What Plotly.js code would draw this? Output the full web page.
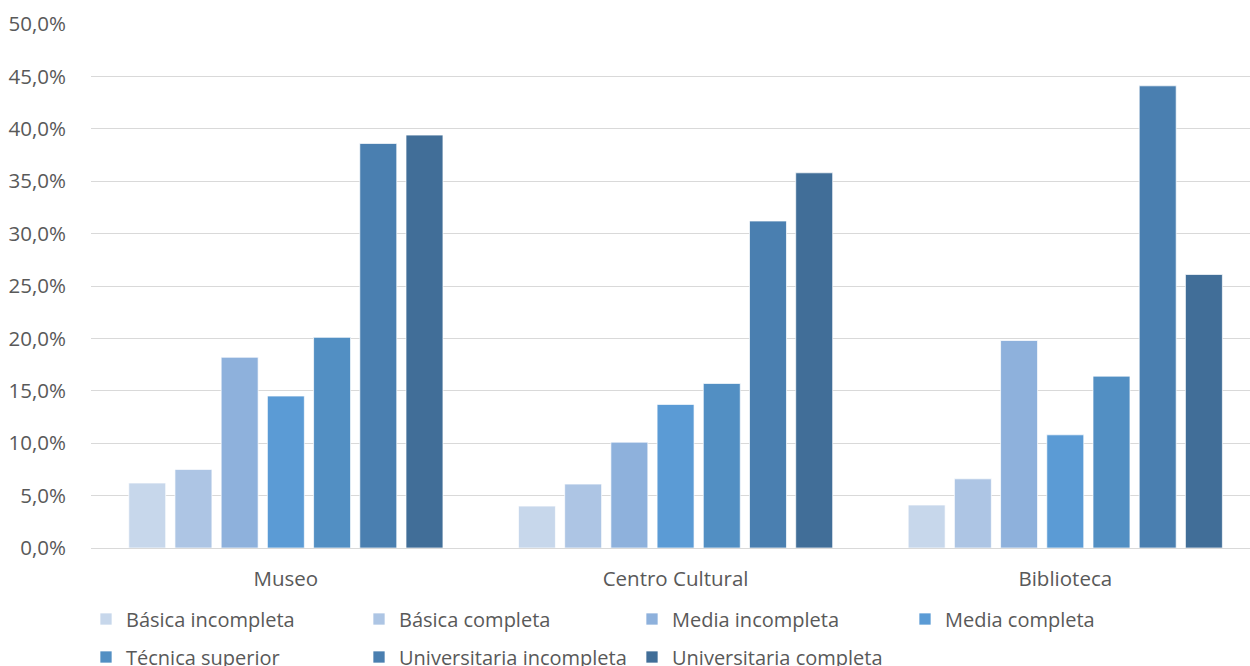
<!DOCTYPE html>
<html>
<head>
<meta charset="utf-8">
<script src="https://cdn.plot.ly/plotly-3.0.1.min.js"></script>
<style>html,body{margin:0;padding:0;background:#fff;}#chart{width:1250px;height:666px;}</style>
</head>
<body>
<div id="chart"></div>
<script>
var categories = ["Museo", "Centro Cultural", "Biblioteca"];
var seriesNames = ["Básica incompleta", "Básica completa", "Media incompleta", "Media completa", "Técnica superior", "Universitaria incompleta", "Universitaria completa"];
var basicaIncompleta = [6.2, 4.0, 4.1];
var basicaCompleta = [7.5, 6.1, 6.6];
var mediaIncompleta = [18.2, 10.1, 19.8];
var mediaCompleta = [14.5, 13.7, 10.8];
var tecnicaSuperior = [20.1, 15.7, 16.4];
var universitariaIncompleta = [38.6, 31.2, 44.1];
var universitariaCompleta = [39.4, 35.8, 26.1];
var seriesValues = [basicaIncompleta, basicaCompleta, mediaIncompleta, mediaCompleta, tecnicaSuperior, universitariaIncompleta, universitariaCompleta];
var colors = ["#C7D7EB", "#ADC5E4", "#8EB1DC", "#5B9BD5", "#528FC3", "#4A7FB0", "#416E98"];

var traces = seriesNames.map(function(name, i) {
  return {
    type: "bar",
    name: name,
    x: categories,
    y: seriesValues[i],
    marker: {color: colors[i], line: {color: "rgba(255,255,255,0.7)", width: 1}},
    legend: i < 4 ? "legend" : "legend2",
    hoverinfo: "x+y+name"
  };
});

var legendFont = {family: "Open Sans, sans-serif", size: 20, color: "#595959"};
var layout = {
  width: 1250, height: 666,
  margin: {l: 91, r: 0, t: 24, b: 118},
  paper_bgcolor: "#fff", plot_bgcolor: "#fff",
  font: {family: "Open Sans, sans-serif", size: 20, color: "#595959"},
  barmode: "group",
  bargap: 0.17,
  bargroupgap: 0.2,
  separators: ",.",
  xaxis: {
    type: "category",
    range: [-0.5, 2.474],
    showgrid: false,
    showline: true, linecolor: "#d9d9d9", linewidth: 1,
    ticks: "outside", ticklen: 12, tickcolor: "rgba(0,0,0,0)",
    tickfont: {size: 20.5, color: "#595959"}
  },
  yaxis: {
    range: [0, 50],
    dtick: 5,
    tickformat: ".1f",
    ticksuffix: "%",
    showgrid: true, gridcolor: "#d9d9d9", gridwidth: 1,
    zeroline: false,
    showline: false,
    ticks: "outside", ticklen: 20, tickcolor: "rgba(0,0,0,0)",
    tickfont: {size: 20.5, color: "#595959"}
  },
  showlegend: true,
  legend: {
    orientation: "h", xref: "container", x: 86 / 1250, xanchor: "left",
    yref: "container", y: (666 - 619) / 666, yanchor: "middle",
    entrywidth: 228, entrywidthmode: "pixels",
    font: legendFont, traceorder: "normal", bgcolor: "rgba(0,0,0,0)"
  },
  legend2: {
    orientation: "h", xref: "container", x: 86 / 1250, xanchor: "left",
    yref: "container", y: (666 - 657) / 666, yanchor: "middle",
    entrywidth: 228, entrywidthmode: "pixels",
    font: legendFont, traceorder: "normal", bgcolor: "rgba(0,0,0,0)"
  }
};

Plotly.newPlot("chart", traces, layout, {displayModeBar: false, staticPlot: true});
</script>
</body>
</html>
